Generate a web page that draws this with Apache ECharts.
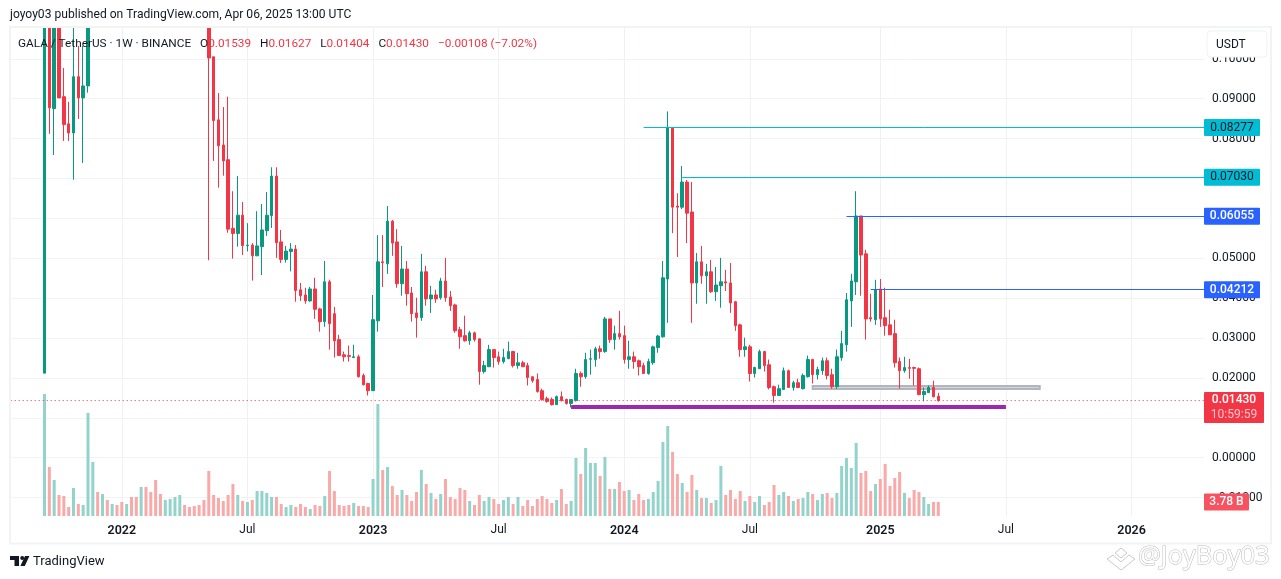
<!DOCTYPE html>
<html>
<head>
<meta charset="utf-8">
<style>html,body{margin:0;padding:0;background:#fff}#c{width:1281px;height:579px}</style>
<script src="https://cdn.jsdelivr.net/npm/echarts@6/dist/echarts.min.js"></script>
</head>
<body>
<div id="c"></div>
<script>
// Weekly candles, each row [open, close, low, high]. First candle is the week of 2021-09-13.
const candles = [
[.0212,.14,.0212,.16],[.14,.0877,.0812,.155],[.0875,.12,.0759,.13],[.12,.0902,.0902,.13],[.0905,.0835,.0794,.0977],
[.0837,.0814,.0794,.0892],[.0814,.0955,.0697,.112],[.0955,.0902,.0849,.1032],[.0902,.0932,.0739,.1032],[.0932,.14,.0915,.16],
[.14,.30,.13,.32],[.30,.26,.24,.34],[.26,.55,.25,.60],[.55,.50,.45,.62],[.50,.70,.48,.80],
[.70,.60,.55,.84],[.60,.50,.46,.66],[.50,.58,.45,.62],[.58,.42,.38,.60],[.42,.38,.30,.46],
[.38,.42,.34,.46],[.42,.34,.30,.44],[.34,.30,.27,.36],[.30,.24,.20,.32],[.24,.21,.18,.26],
[.21,.23,.19,.25],[.23,.26,.22,.28],[.26,.29,.25,.32],[.29,.33,.28,.35],[.33,.28,.26,.34],
[.28,.25,.23,.30],[.25,.22,.20,.27],[.22,.19,.17,.23],[.19,.15,.13,.20],
[.15,.1002,.0495,.16],[.1005,.0845,.0744,.1005],[.0847,.0782,.0677,.0914],[.0784,.0744,.0707,.0879],[.0747,.0573,.0564,.0905],
[.0575,.0562,.0499,.0668],[.0562,.0608,.0529,.0706],[.0608,.0532,.0508,.0641],[.0532,.0533,.0517,.0588],[.0533,.0506,.0444,.0538],
[.0506,.0531,.0506,.0618],[.0529,.0571,.0458,.0636],[.0569,.0608,.0556,.0666],[.0607,.0706,.0576,.0728],[.0706,.0539,.0501,.0728],
[.0541,.0497,.0488,.0571],[.0497,.0518,.0489,.0531],[.0517,.0523,.0467,.0538],[.0523,.0419,.0391,.0533],[.0421,.0406,.0393,.0438],
[.0408,.0393,.0386,.0426],[.0393,.0423,.0391,.0428],[.0423,.0372,.0348,.0451],[.0373,.0341,.0316,.0376],[.0341,.0441,.0328,.0493],
[.0441,.0336,.0271,.0446],[.0361,.0293,.0251,.0378],[.0296,.0256,.0256,.0308],[.0258,.0253,.0241,.0266],[.0256,.0254,.0241,.0281],
[.0251,.0253,.0251,.0283],[.0253,.0203,.0201,.0258],[.0206,.0183,.0181,.0211],[.0186,.0168,.0156,.0188],[.0168,.0346,.0168,.0408],
[.0343,.0491,.0316,.0558],[.0491,.0489,.0428,.0558],[.0486,.0593,.0461,.0631],[.0593,.0538,.0506,.0596],[.0541,.0436,.0426,.0573],
[.0436,.0473,.0406,.0531],[.0473,.0411,.0381,.0493],[.0413,.0361,.0341,.0428],[.0363,.0351,.0301,.0401],[.0351,.0466,.0343,.0511],
[.0466,.0398,.0381,.0481],[.0398,.0408,.0363,.0431],[.0408,.0398,.0388,.0421],[.0401,.0443,.0396,.0451],[.0443,.0401,.0391,.0501],
[.0403,.0381,.0368,.0418],[.0383,.0318,.0313,.0386],[.0321,.0303,.0273,.0328],[.0306,.0293,.0291,.0356],[.0293,.0313,.0283,.0318],
[.0313,.0296,.0291,.0316],[.0298,.0216,.0183,.0298],[.0216,.0231,.0211,.0243],[.0228,.0271,.0228,.0283],[.0271,.0251,.0226,.0271],
[.0253,.0241,.0233,.0266],[.0241,.0251,.0236,.0273],[.0248,.0266,.0248,.0291],[.0266,.0231,.0226,.0268],[.0231,.0238,.0223,.0263],
[.0238,.0228,.0228,.0243],[.0231,.0201,.0181,.0238],[.0203,.0193,.0188,.0203],[.0196,.0166,.0163,.0211],[.0168,.0146,.0143,.0173],
[.0148,.0141,.0138,.0153],[.0146,.0133,.0131,.0151],[.0133,.0153,.0133,.0156],[.0153,.0143,.0141,.0166],[.0146,.0136,.0133,.0148],
[.0136,.0146,.0126,.0146],[.0143,.0211,.0141,.0223],[.0211,.0203,.0178,.0216],[.0203,.0246,.0198,.0263],[.0247,.0248,.0208,.0271],
[.0246,.0273,.0228,.0278],[.0273,.0266,.0248,.0281],[.0266,.0348,.0263,.0353],[.0348,.0296,.0288,.0348],[.0296,.0311,.0271,.0331],
[.0311,.0303,.0296,.0368],[.0306,.0246,.0236,.0331],[.0246,.0253,.0223,.0293],[.0253,.0241,.0223,.0266],[.0243,.0228,.0206,.0246],
[.0231,.0211,.0211,.0238],[.0211,.0241,.0208,.0248],[.0238,.0278,.0233,.0281],[.0276,.0305,.0263,.0308],[.0303,.0451,.0301,.0493],
[.0448,.0828,.0338,.0868],[.0828,.0628,.0563,.0828],[.0631,.0628,.0503,.0663],[.0628,.0691,.0623,.0731],[.0691,.0613,.0538,.0696],
[.0616,.0438,.0338,.0691],[.0438,.0491,.0386,.0513],[.0491,.0456,.0436,.0531],[.0456,.0466,.0386,.0486],[.0466,.0416,.0413,.0496],
[.0416,.0433,.0393,.0478],[.0431,.0441,.0376,.0501],[.0441,.0438,.0418,.0471],[.0438,.0388,.0363,.0488],[.0391,.0331,.0318,.0393],
[.0333,.0271,.0253,.0336],[.0271,.0278,.0253,.0301],[.0278,.0211,.0191,.0283],[.0211,.0226,.0201,.0228],[.0223,.0266,.0223,.0271],
[.0266,.0231,.0216,.0268],[.0233,.0176,.0171,.0246],[.0178,.0156,.0138,.0181],[.0156,.0173,.0156,.0183],[.0171,.0218,.0171,.0226],
[.0218,.0176,.0176,.0221],[.0176,.0188,.0168,.0193],[.0188,.0176,.0176,.0198],[.0173,.0206,.0171,.0211],[.0203,.0246,.0201,.0256],
[.0246,.0208,.0186,.0248],[.0208,.0221,.0196,.0228],[.0218,.0243,.0208,.0251],[.0243,.0206,.0196,.0251],[.0208,.0178,.0173,.0223],
[.0178,.0253,.0173,.0271],[.0251,.0286,.0243,.0318],[.0283,.0396,.0266,.0413],[.0393,.0443,.0328,.0461],[.0441,.0606,.0408,.0668],
[.0606,.0508,.0406,.0606],[.0511,.0348,.0296,.0521],[.0351,.0348,.0341,.0411],[.0346,.0421,.0333,.0446],[.0423,.0348,.0328,.0448],
[.0351,.0331,.0306,.0426],[.0333,.0308,.0308,.0371],[.0311,.0238,.0226,.0346],[.0241,.0218,.0173,.0251],[.0218,.0226,.0213,.0253],
[.0226,.0224,.0198,.0248],[.0226,.0224,.0181,.0228],[.0223,.0158,.0158,.0226],[.0158,.0166,.0141,.0176],[.0163,.0176,.0163,.0181],
[.0176,.0153,.0151,.0193],[.01539,.0143,.01404,.01627]
];
// Weekly volume in billions, same order as candles.
const volumes = [
32.94,13.23,9.72,5.67,5.40,2.43,7.56,3.24,2.97,27.81,14.58,6.48,5.94,4.32,3.24,2.97,3.78,3.24,5.13,5.13,
7.83,7.83,6.48,9.72,5.94,4.32,4.59,5.13,5.67,2.97,2.43,2.70,2.97,4.32,12.15,5.67,4.86,4.05,5.67,8.64,
5.67,4.05,3.78,4.32,6.75,6.75,6.21,5.13,5.13,3.24,2.43,2.97,2.43,3.24,2.43,1.89,2.97,2.70,5.40,12.15,
6.75,2.97,2.70,2.97,3.51,2.70,2.70,2.43,9.99,30.24,12.42,13.23,8.10,5.67,7.02,5.67,4.05,6.48,12.42,8.64,
6.21,4.59,5.94,9.99,5.13,4.59,7.56,7.02,4.05,2.97,5.67,4.05,5.13,4.59,3.24,4.32,5.13,3.24,5.13,2.70,
4.32,2.70,4.59,5.40,4.59,3.51,4.32,7.29,3.24,4.05,15.66,11.34,18.36,14.31,14.31,10.80,15.93,7.29,7.29,9.18,
6.75,7.02,4.32,5.94,4.32,4.59,6.48,9.45,19.98,24.30,17.28,11.34,8.91,6.48,11.07,7.02,4.86,4.86,3.51,4.32,
13.50,5.67,7.02,4.59,6.75,4.05,5.40,3.78,5.40,2.97,3.78,8.37,5.67,6.48,5.40,4.05,4.59,4.86,6.48,5.94,
4.32,5.94,6.21,4.86,6.21,13.50,15.66,12.96,19.71,11.61,12.15,6.75,8.64,9.99,14.04,8.10,10.26,11.88,6.21,4.86,
7.02,6.48,5.13,3.24,3.78,3.78
];
const firstWeek = '2021-07-26';
const weekCount = 248;
const leadingBlankWeeks = 7;
const xTickLabels = {'2022-01-03':'2022','2022-07-04':'Jul','2023-01-02':'2023','2023-07-03':'Jul','2024-01-01':'2024','2024-07-01':'Jul','2025-01-06':'2025','2025-07-07':'Jul','2026-01-05':'2026'};
const priceTicks = [-0.01,0,0.01,0.02,0.03,0.04,0.05,0.06,0.07,0.08,0.09,0.10];
// Resistance levels: value, first candle index
const levelValues = [0.08277,0.0703,0.06055,0.04212];
const levelStartCandle = [124,132,166,171];
const lastPrice = 0.0143;
const lastVolume = 3.78;

const weeks = [];
for (let i = 0; i < weekCount; i++) {
  const d = new Date(Date.parse(firstWeek + 'T00:00:00Z') + i * 7 * 864e5);
  weeks.push(d.toISOString().slice(0, 10));
}
const cat = i => weeks[i + leadingBlankWeeks];
const lastCat = weeks[weekCount - 1];
const prevCat = weeks[weekCount - 2];
const blanks = new Array(leadingBlankWeeks).fill('-');
const UP = '#089981', DOWN = '#f23645', VUP = '#92d3cb', VDOWN = '#f8a9a8', INK = '#131722';
const FONT = 'Roboto, "Noto Sans", sans-serif';

const levelColor = ['#00bcd4','#00bcd4','#2962ff','#2962ff'];
const levelText = ['#131722','#131722','#ffffff','#ffffff'];
const levelWeight = [400,400,500,500];
const tag = (bg, fg, w, weight) => ({width:w, height:17, lineHeight:17, align:'center', backgroundColor:bg, color:fg, fontSize:12, fontFamily:FONT, fontWeight:weight, borderRadius:1});

const levelLines = levelValues.map((v, i) => ([
  {coord:[cat(levelStartCandle[i]), v], lineStyle:{color:levelColor[i], width:1, type:'solid'},
   label:{show:true, position:'end', distance:0, formatter:'{a|' + v.toFixed(5) + '}', rich:{a:tag(levelColor[i], levelText[i], 56, levelWeight[i])}}},
  {coord:[lastCat, v]}
]));
const noLabel = {show:false};
const option = {
  animation:false,
  backgroundColor:'#ffffff',
  textStyle:{fontFamily:FONT},
  title:[
    {z:200, left:10, top:9, padding:0, text:'joyoy03 published on TradingView.com, Apr 06, 2025 13:00 UTC',
     textStyle:{fontSize:12.1, fontWeight:400, color:INK, fontFamily:FONT}},
    {z:200, left:18, top:35, padding:0, text:'{k|GALA / TetherUS · 1W · BINANCE}  {k|O}{r|0.01539}  {k|H}{r|0.01627}  {k|L}{r|0.01404}  {k|C}{r|0.01430}  {r|−0.00108 (−7.02%)}',
     textStyle:{fontWeight:400, rich:{k:{fontSize:11.8,fontWeight:400,color:INK,fontFamily:FONT},r:{fontSize:11.8,fontWeight:400,color:DOWN,fontFamily:FONT}}}}
  ],
  grid:{left:10.7, top:27, width:1193.3, height:489, containLabel:false},
  xAxis:{
    type:'category', data:weeks, boundaryGap:false,
    axisLine:{show:false}, axisTick:{show:false},
    splitLine:{show:true, interval:(i,v)=>v in xTickLabels, lineStyle:{color:'#f0f1f3', width:1}},
    axisLabel:{margin:8, interval:(i,v)=>v in xTickLabels, hideOverlap:false,
      formatter:v=>{const t=xTickLabels[v]; return t==='Jul'?'{m|Jul}':'{y|'+t+'}';},
      rich:{m:{fontSize:12,color:INK,fontFamily:FONT},y:{fontSize:12.5,fontWeight:600,color:INK,fontFamily:FONT}}}
  },
  yAxis:[
    {type:'value', position:'right', min:-0.014615, max:0.10797, scale:false,
     axisLine:{show:false},
     axisTick:{show:false, customValues:priceTicks},
     splitLine:{show:true, lineStyle:{color:'#f2f3f5', width:1}},
     axisLabel:{margin:8, fontSize:12, color:INK, fontFamily:FONT, customValues:priceTicks,
       formatter:v=>(v<0?'−':'')+Math.abs(v).toFixed(5)}},
    {type:'value', show:false, min:0, max:132, splitLine:{show:false}}
  ],
  series:[
    {type:'bar', name:'Volume', yAxisIndex:1, barWidth:3, z:1, silent:true,
     data:blanks.concat(volumes.map((v,i)=>({value:v, itemStyle:{color:candles[i][1]>=candles[i][0]?VUP:VDOWN}}))),
     markLine:{silent:true, symbol:'none', z:6, animation:false,
       lineStyle:{width:0, color:'transparent'},
       data:[{yAxis:lastVolume, label:{show:true, position:'end', distance:0, formatter:'{a|3.78 B}', rich:{a:tag('#f7525f','#ffffff',45,500)}}}]}},
    {type:'candlestick', name:'GALA', z:3, barWidth:3, silent:true,
     itemStyle:{color:UP, color0:DOWN, borderColor:UP, borderColor0:DOWN, borderWidth:1},
     data:blanks.concat(candles)},
    {type:'line', name:'Drawings', z:4, silent:true, symbol:'none', data:[], lineStyle:{width:0},
     markArea:{silent:true, z:1,
       itemStyle:{color:'#d1d4dc', borderColor:'#b2b5be', borderWidth:2},
       data:[[{coord:[cat(159),0.017975]},{coord:[cat(206),0.017222]}]]},
     markLine:{silent:true, symbol:'none', z:5, animation:false, label:noLabel,
       data:levelLines.concat([
         [{coord:[cat(109),0.01271], lineStyle:{color:'#9c27b0', width:4, type:'solid'}, label:noLabel},{coord:[cat(199),0.01271]}],
         [{coord:[weeks[0],lastPrice], lineStyle:{color:DOWN, width:1, type:[1,3]}, label:noLabel},{coord:[lastCat,lastPrice]}],
         [{coord:[prevCat,0.012585], lineStyle:{width:0,color:'transparent'},
           label:{show:true, position:'end', distance:0, backgroundColor:DOWN, borderRadius:1,
             formatter:'{p|0.01430}\n{t|10:59:59}',
             rich:{p:{width:60,height:16,lineHeight:16,align:'center',color:'#fff',fontSize:12,fontWeight:500,fontFamily:FONT},
                   t:{width:60,height:15,lineHeight:15,align:'center',color:'#fbc5ca',fontSize:12,fontFamily:FONT}}}},
          {coord:[lastCat,0.012585]}]
       ])}}
  ],
  graphic:[
    {type:'rect', z:50, silent:true, shape:{x:0,y:0,width:1281,height:26.5}, style:{fill:'#ffffff'}},
    {type:'rect', z:60, silent:true, shape:{x:10,y:27,width:1261,height:516.5}, style:{fill:'none', stroke:'#f2f3f5', lineWidth:2}},
    {type:'rect', z:100, silent:true, shape:{x:1207,y:31,width:60,height:26,r:4}, style:{fill:'#fff', stroke:'#f0f1f3', lineWidth:1}},
    {type:'text', z:101, silent:true, x:1216, y:39, style:{text:'USDT', fontSize:12, fill:INK, fontFamily:FONT}},
    {type:'polygon', z:100, silent:true, shape:{points:[[10,556],[19,556],[19,566],[14.5,566],[14.5,560],[10,560]]}, style:{fill:INK}},
    {type:'polygon', z:100, silent:true, shape:{points:[[25,556],[29.4,556],[24.8,566],[20.4,566]]}, style:{fill:INK}},
    {type:'circle', z:100, silent:true, shape:{cx:22.2,cy:558,r:2}, style:{fill:INK}},
    {type:'text', z:100, silent:true, x:33, y:555, style:{text:'TradingView', fontSize:13, fill:INK, fontFamily:FONT}},
    {type:'polygon', z:100, silent:true, shape:{points:[[1121,548],[1127,553],[1121,558],[1115,553]]}, style:{fill:'none', stroke:'#c9c9c9', lineWidth:1}},
    {type:'polyline', z:100, silent:true, shape:{points:[[1113,555],[1121,562],[1129,555]]}, style:{fill:'none', stroke:'#c9c9c9', lineWidth:1}},
    {type:'polyline', z:100, silent:true, shape:{points:[[1113,555],[1107,559],[1121,570],[1135,559],[1129,555]]}, style:{fill:'none', stroke:'#c9c9c9', lineWidth:1}},
    {type:'text', z:100, silent:true, x:1138, y:544, style:{text:'@JoyBoy03', fontSize:25.5, fill:'#ffffff', stroke:'#b9b9b9', lineWidth:1, fontFamily:'"Open Sans", sans-serif'}}
  ]
};
echarts.init(document.getElementById('c'), null, {renderer:'canvas'}).setOption(option);
</script>
</body>
</html>
